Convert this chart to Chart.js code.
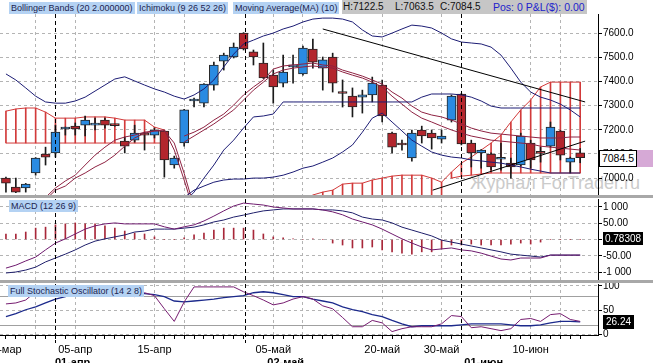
<!DOCTYPE html>
<html>
<head>
<meta charset="utf-8">
<title>Chart</title>
<script src="https://cdn.jsdelivr.net/npm/chart.js@4.4.1/dist/chart.umd.min.js"></script>
<style>
  html, body { margin: 0; padding: 0; background: #fff; }
  #wrap { position: relative; width: 653px; height: 363px; overflow: hidden; font-family: 'Liberation Sans', Arial, sans-serif; }
  canvas { position: absolute; left: 0; z-index: 1; }
  .sep { position: absolute; left: 0; width: 653px; height: 3px; background: #a8a8a8; z-index: 2; }
  .lbl { position: absolute; z-index: 3; background: #b4d2f3; color: #1c2450; font-size: 9px; line-height: 12px; height: 12px; padding: 0 2px; white-space: nowrap; }
  .hdr { position: absolute; z-index: 3; top: 0; height: 14px; font-size: 10px; line-height: 14px; white-space: nowrap; }
  .tag { position: absolute; z-index: 3; font-size: 10px; white-space: nowrap; box-sizing: border-box; text-align: center; }
  #wm { position: absolute; left: 470px; top: 173px; font-size: 18px; color: #cbcbcb; z-index: 0; white-space: nowrap; }
</style>
</head>
<body>
<div id="wrap">
  <div id="wm">Журнал ForTrader.ru</div>
  <canvas id="main" width="653" height="195" style="top:0"></canvas>
  <canvas id="macd" width="653" height="82" style="top:198px"></canvas>
  <canvas id="stoch" width="653" height="80" style="top:283px"></canvas>
  <div class="sep" style="top:195px"></div>
  <div class="sep" style="top:280px"></div>

  <div class="lbl" style="left:9px;top:2px">Bollinger Bands (20 2.000000)</div>
  <div class="lbl" style="left:137px;top:2px">Ichimoku (9 26 52 26)</div>
  <div class="lbl" style="left:233px;top:2px">Moving Average(MA) (10)</div>
  <div class="hdr" style="left:342px;width:245px;background:#c6c6c6"></div>
  <div class="hdr" style="left:343px;color:#111">H:7122.5</div>
  <div class="hdr" style="left:395px;color:#111">L:7063.5</div>
  <div class="hdr" style="left:440px;color:#111">C:7084.5</div>
  <div class="hdr" style="left:493px;color:#2222cc;font-size:10.5px">Pos: 0 P&amp;L($): 0.00</div>

  <div class="lbl" style="left:9px;top:200px">MACD (12 26 9)</div>
  <div class="lbl" style="left:8px;top:285px">Full Stochastic Oscillator (14 2 8)</div>

  <div class="tag" style="left:599px;top:150px;width:38px;height:17px;line-height:15px;border:1px solid #000;background:#fff;color:#000;font-size:10.5px">7084.5</div>
  <div class="tag" style="left:637px;top:150px;width:16px;height:17px;background:#d6a9d6"></div>
  <div class="tag" style="left:603px;top:232px;width:40px;height:13px;line-height:13px;background:#000;color:#fff">0.78308</div>
  <div class="tag" style="left:603px;top:315px;width:31px;height:14px;line-height:14px;background:#000;color:#fff">26.24</div>
</div>

<script>
// ---- data ----
const open  = [7000,6963,6959,7021,7099,7104,7203,7215,7219,7219,7240,7219,7153,7157,7180,7178,7195,7054,7145,7319,
               7310,7385,7484,7501,7600,7522,7476,7426,7393,7460,7431,7534,7455,7501,7352,7339,7335,7344,7385,7186,
               7139,7083,7199,7186,7161,7240,7348,7145,7104,7099,7078,7062,7054,7145,7104,7132,7195,7066,7104];
const high  = [7004,7000,6978,7085,7128,7219,7211,7228,7257,7248,7248,7222,7170,7219,7190,7207,7197,7091,7284,7331,
               7391,7480,7517,7559,7602,7530,7559,7447,7509,7509,7546,7575,7501,7517,7406,7373,7364,7418,7406,7190,
               7157,7199,7215,7199,7199,7344,7350,7157,7118,7104,7145,7083,7186,7157,7128,7232,7197,7087,7122.5];
const low   = [6942,6940,6942,7012,7054,7087,7178,7178,7174,7199,7207,7215,7104,7149,7116,7166,7004,7041,7132,7294,
               7294,7364,7447,7497,7530,7468,7412,7310,7377,7393,7426,7455,7364,7356,7294,7253,7269,7315,7232,7104,
               7116,7070,7145,7120,7145,7232,7137,7046,7041,7033,7033,7000,7050,7041,7066,7128,7075,7021,7063.5];
const close = [6979,6942,6975,7083,7087,7190,7205,7203,7240,7221,7219,7217,7132,7186,7178,7199,7075,7083,7282,7321,
               7389,7468,7509,7542,7534,7501,7414,7377,7439,7462,7538,7480,7489,7393,7350,7294,7344,7393,7257,7128,
               7137,7186,7174,7166,7174,7339,7141,7104,7116,7046,7080,7046,7174,7075,7102,7211,7095,7083,7084.5];

const bbUpper = [7431,7406,7373,7339,7315,7310,7310,7319,7335,7360,7385,7410,7419,7402,7385,7369,7356,7339,7327,7344,
                 7369,7406,7460,7513,7555,7571,7588,7600,7617,7629,7646,7658,7662,7662,7658,7646,7613,7588,7584,7600,
                 7617,7633,7629,7621,7600,7576,7563,7559,7555,7542,7509,7455,7397,7356,7335,7323,7306,7282,7253];
const bbLower = Array(18).fill(null).concat([6920,6950,6967,6983,6992,6996,6996,7000,7000,7004,7012,7025,7041,7050,
                 7066,7083,7108,7137,7190,7248,7269,7232,7195,7157,7132,7108,7095,7087,7083,7075,7071,7066,7062,7054,
                 7046,7037,7029,7021,7021,7021,7021]);
const kijun   = Array(18).fill(null).concat([6900,6942,7000,7054,7116,7157,7207,7253,7257,7265,
                 7315,7315,7315,7315,7315,7315,7315,7315,7315,7315,7315,7315,7315,7315,
                 7335,7348,7348,7348,7344,7335,7319,7298,7290,7290,7290,7290,7290,7290,7290,7290,7290]);
const tenkanOld = Array(4).fill(null).concat([6920,6959,6988,7012,7054,7095,7128,7157,7170,7178,7190,7195,7195,7145,7020,6880]);
const maOld     = Array(4).fill(null).concat([6910,6950,6967,7000,7021,7046,7066,7095,7132,7166,7186,7195,7199,7116,6992,6860]);
const tenkan  = Array(18).fill(null).concat([7174,7190,7211,7240,7265,7302,7344,7377,7406,7451,7464,7468,7472,7476,
                 7468,7464,7447,7435,7422,7406,7389,7356,7331,7298,7273,7261,7253,7240,7224,7207,7195,7186,7182,7178,
                 7174,7170,7166,7166,7166,7170,7170]);
const ma10    = Array(18).fill(null).concat([7149,7174,7199,7224,7253,7282,7323,7364,7397,7431,7447,7455,7460,7464,
                 7460,7455,7439,7426,7414,7397,7377,7339,7306,7273,7248,7232,7215,7199,7186,7174,7166,7157,7153,7149,
                 7145,7141,7132,7128,7124,7120,7116]);
const kumoTop = [7277,7286,7290,7290,7273,7248,7248,7248,7253,7253,7253,7248,7240,7240,7240,7211,7199,
                 null,null,null,null,null,null,null,null,null,null,null,null,null,null,
                 6930,6942,6950,6975,6979,6979,6992,7000,7008,7012,7012,7012,7000,6983,
                 7025,7062,7087,7116,7145,7178,7232,7282,7323,7377,7397,7397,7397,7397];
const kumoBottom = [7145,7145,7145,7145,7145,7145,7145,7145,7145,7145,7145,7145,7145,7145,7145,7145,7145,
                 null,null,null,null,null,null,null,null,null,null,null,null,null,null,
                 6880,6880,6880,6880,6880,6880,6880,6880,6880,6880,6880,6880,6880,6880,
                 7000,7008,7012,7017,7021,7021,7021,7021,7021,7021,7021,7021,7021,7021];
const trendHigh = [[32, 7617], [58.5, 7315]];
const trendLow  = [[43.1, 6950], [58.5, 7153]];

const macdLine = [-88,-79,-66,-54,-32,-11,2,17,32,42,48,51,48,48,48,48,39,32,39,45,
                  57,72,88,103,112,109,106,100,97,94,94,94,91,85,76,63,54,45,32,17,
                  2,-11,-23,-32,-29,-26,-32,-35,-42,-51,-60,-63,-57,-57,-57,-48,-48,-48,-48];
const signalLine = [-103,-100,-94,-85,-69,-57,-45,-32,-17,-5,2,8,14,23,26,32,32,32,35,38,
                  45,54,60,69,75,82,88,91,94,94,94,94,91,91,88,82,69,63,60,51,
                  38,29,20,11,-2,-8,-14,-20,-26,-32,-38,-45,-48,-51,-54,-48,-48,-48,-48];
const macdHist = [17,17,23,35,38,45,48,51,48,48,42,35,26,20,17,8,0,0,5,14,
                  20,29,35,35,35,29,17,8,5,2,0,2,0,-11,-17,-26,-26,-23,-32,-38,
                  -42,-45,-38,-38,-29,-17,-17,-14,-17,-17,-17,-14,-11,-14,-8,0,0,0,0];

const stochK = [63,65,71,88,96,98,90,90,90,90,90,90,85,78,86,80,53,27,67,98,
                98,98,98,98,88,80,71,61,65,73,78,73,59,53,35,16,16,29,24,6,
                12,16,16,16,22,39,37,14,16,12,8,12,31,33,27,41,43,31,27];
const stochD = [37,43,51,57,65,73,78,84,84,84,84,84,84,84,84,82,78,69,67,69,
                71,73,76,78,80,86,88,86,82,78,78,73,69,65,57,51,47,41,37,29,
                22,16,18,18,18,18,20,22,22,22,22,20,18,18,20,24,27,27,26];
const stochBands = [20, 80];

const priceTicks = [7000, 7100, 7200, 7300, 7400, 7500, 7600];
const macdTicks = [-100, -50, 0, 50, 100];
const macdTickText = ['-1 000', '-50.00', '0.00', '50.00', '1 000'];
const stochTicks = [0, 50, 100];

const gridIdx = [3, 7, 15, 18, 27, 30, 38, 44, 53, 56];
const dateIdx = [0.4, 7, 15, 27, 38, 44, 53];
const dateText = ['-мар', '05-апр', '15-апр', '05-май', '20-май', '30-май', '10-июн'];
const monthIdx = [4.95, 24.1, 46];
const monthLabelIdx = [4.95, 26.4, 46.3];
const monthText = ['01-апр', '02-май', '01-июн'];

// ---- styling ----
const FONT = "'Liberation Sans', Arial, sans-serif";
const GRID = '#b4b4b4';
const NAVY = '#1c1c74';
const MAROON = '#8e2242';
const CLOUD = '#d23a3a';
const BLUE = '#2a8be2';
const RED = '#b3262d';
const X_MIN = -0.6, X_MAX = 59.8;

Chart.defaults.font.family = FONT;
Chart.defaults.animation = false;

const idx = open.map((_, i) => i);
const pts = arr => arr.map((v, i) => ({x: i, y: v}));
const line = (label, data, color, extra) => Object.assign({
  type: 'line', label, data, borderColor: color, borderWidth: 1,
  pointRadius: 0, tension: 0, fill: false, order: 1
}, extra);

function xGridScale() {
  return {
    type: 'linear', min: X_MIN, max: X_MAX, offset: false,
    afterBuildTicks: s => { s.ticks = gridIdx.map(v => ({value: v})); },
    ticks: {display: false},
    grid: {color: GRID, drawTicks: false, offset: false},
    border: {display: false, dash: [3, 3]},
    afterFit: s => { s.height = 0; s.paddingLeft = 0; s.paddingRight = 0; }
  };
}
function yScale(min, max, ticks, fmt) {
  return {
    position: 'right', min, max,
    afterBuildTicks: s => { s.ticks = ticks.map(v => ({value: v})); },
    ticks: {color: '#000', font: {size: 10}, padding: 1, callback: fmt},
    grid: {color: GRID, tickColor: '#000', tickLength: 4},
    border: {display: true, color: '#000', dash: [3, 3]},
    afterFit: s => { s.width = 55; s.paddingTop = 0; s.paddingBottom = 0; }
  };
}

const monthMarks = {
  id: 'monthMarks',
  afterDatasetsDraw(chart, args, opts) {
    const {ctx, chartArea: a, scales: {x}} = chart;
    ctx.save();
    ctx.strokeStyle = '#000';
    ctx.lineWidth = 1;
    ctx.setLineDash([4, 3]);
    monthIdx.forEach(v => {
      const px = Math.round(x.getPixelForValue(v)) + 0.5;
      ctx.beginPath();
      ctx.moveTo(px, a.top);
      ctx.lineTo(px, a.bottom + (opts.below || 0));
      ctx.stroke();
    });
    ctx.restore();
  }
};

const stochLevels = {
  id: 'stochLevels',
  beforeDatasetsDraw(chart) {
    const {ctx, chartArea: a, scales: {y}} = chart;
    ctx.save();
    ctx.strokeStyle = '#a0a0a0';
    ctx.lineWidth = 1;
    stochBands.forEach(v => {
      const py = Math.round(y.getPixelForValue(v)) + 0.5;
      ctx.beginPath();
      ctx.moveTo(a.left, py);
      ctx.lineTo(a.right, py);
      ctx.stroke();
    });
    ctx.restore();
  }
};

const monthLabels = {
  id: 'monthLabels',
  afterDraw(chart) {
    const {ctx, scales: {x}} = chart;
    ctx.save();
    ctx.font = 'bold 11px ' + FONT;
    ctx.fillStyle = '#000';
    ctx.textAlign = 'left';
    ctx.textBaseline = 'alphabetic';
    monthLabelIdx.forEach((v, k) => ctx.fillText(monthText[k], x.getPixelForValue(v), chart.height + 3));
    ctx.restore();
  }
};

const baseOptions = (padTop) => ({
  responsive: false,
  maintainAspectRatio: false,
  animation: false,
  events: [],
  layout: {padding: {top: padTop, left: 0, right: 0, bottom: 0}},
  plugins: {legend: {display: false}, tooltip: {enabled: false}}
});

// ---- price panel ----
const hatch = idx.filter(i => kumoTop[i] !== null).map(i => ({x: i, y: [kumoBottom[i], kumoTop[i]]}));
const mainOpts = baseOptions(14);
mainOpts.scales = {x: xGridScale(), y: yScale(6930, 7679, priceTicks, v => v.toFixed(1))};

new Chart(document.getElementById('main'), {
  type: 'line',
  data: {
    datasets: [
      line('trend high', trendHigh.map(p => ({x: p[0], y: p[1]})), '#000', {order: 0}),
      line('trend low', trendLow.map(p => ({x: p[0], y: p[1]})), '#000', {order: 0}),
      line('BB upper', pts(bbUpper), NAVY),
      line('BB lower', pts(bbLower), NAVY),
      line('Kijun', pts(kijun), NAVY),
      line('Tenkan a', pts(tenkanOld), MAROON),
      line('MA a', pts(maOld), MAROON),
      line('Tenkan', pts(tenkan), MAROON),
      line('MA(10)', pts(ma10), MAROON),
      {
        type: 'bar', label: 'body', order: 3, grouped: false,
        data: idx.map(i => ({x: i, y: [open[i], close[i]]})),
        backgroundColor: idx.map(i => close[i] >= open[i] ? BLUE : RED),
        borderColor: '#242424', borderWidth: 1, borderSkipped: false,
        barThickness: 9, minBarLength: 2
      },
      {
        type: 'bar', label: 'wick', order: 4, grouped: false,
        data: idx.map(i => ({x: i, y: [low[i], high[i]]})),
        backgroundColor: '#1a1a1a', barThickness: 1
      },
      line('Senkou A', pts(kumoTop), CLOUD, {order: 5}),
      line('Senkou B', pts(kumoBottom.map(v => v !== null && v > 6930 ? v : null)), CLOUD, {order: 5}),
      {
        type: 'bar', label: 'kumo', order: 6, grouped: false,
        data: hatch, backgroundColor: CLOUD, barThickness: 1
      }
    ]
  },
  options: mainOpts,
  plugins: [monthMarks]
});

// ---- MACD panel ----
const macdOpts = baseOptions(1);
macdOpts.scales = {
  x: xGridScale(),
  y: yScale(-124.6, 124.6, macdTicks, v => macdTickText[macdTicks.indexOf(v)])
};
new Chart(document.getElementById('macd'), {
  type: 'line',
  data: {
    datasets: [
      line('MACD', pts(macdLine), '#6e1a6e'),
      line('Signal', pts(signalLine), '#1e1e6a'),
      {
        type: 'bar', label: 'Hist', order: 3, grouped: false,
        data: pts(macdHist), backgroundColor: '#a8283a', barThickness: 1
      }
    ]
  },
  options: macdOpts,
  plugins: [monthMarks]
});

// ---- Stochastic panel ----
const tickVals = [...new Set(idx.concat(dateIdx))].sort((a, b) => a - b);
const stochOpts = baseOptions(1);
stochOpts.plugins.monthMarks = {below: 8};
stochOpts.scales = {
  x: {
    type: 'linear', min: X_MIN, max: X_MAX, offset: false,
    afterBuildTicks: s => { s.ticks = tickVals.map(v => ({value: v})); },
    ticks: {
      color: '#000', font: {size: 11}, padding: 4, autoSkip: false, maxRotation: 0, minRotation: 0,
      callback: v => { const k = dateIdx.indexOf(v); return k >= 0 ? dateText[k] : ''; }
    },
    grid: {
      offset: false, tickLength: 4,
      color: c => gridIdx.includes(c.tick && c.tick.value) ? GRID : 'rgba(0,0,0,0)',
      tickColor: c => Number.isInteger(c.tick && c.tick.value) ? '#000' : 'rgba(0,0,0,0)'
    },
    border: {display: true, color: '#000', dash: [3, 3]},
    afterFit: s => { s.height = 28; s.paddingLeft = 0; s.paddingRight = 0; }
  },
  y: yScale(-1, 104, stochTicks, v => String(v))
};
new Chart(document.getElementById('stoch'), {
  type: 'line',
  data: {
    datasets: [
      line('%K', pts(stochK), '#761c70'),
      line('%D', pts(stochD), '#1c2a8c', {borderWidth: 1.3})
    ]
  },
  options: stochOpts,
  plugins: [monthMarks, stochLevels, monthLabels]
});
</script>
</body>
</html>
